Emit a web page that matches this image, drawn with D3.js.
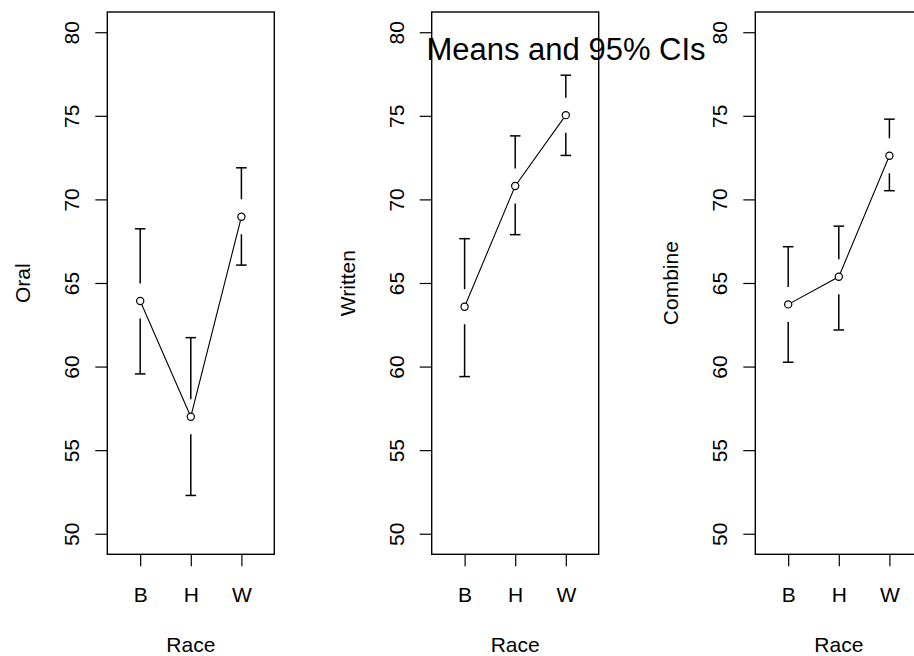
<!DOCTYPE html>
<html>
<head>
<meta charset="utf-8">
<script src="https://d3js.org/d3.v7.min.js"></script>
<style>
  body { margin: 0; background: #fff; }
  svg text { font-family: "Liberation Sans", Arial, sans-serif; fill: #000; }
</style>
</head>
<body>
<svg id="graph"></svg>
<script>
// groups on the x axis
var races = ["B", "H", "W"];
var panelNames = ["Oral", "Written", "Combine"];
var yTicks = [50, 55, 60, 65, 70, 75, 80];

// means and 95% CI ends
var oralMean = [63.92, 57.0, 68.96];
var oralLow = [59.56, 52.29, 66.07];
var oralHigh = [68.24, 61.73, 71.89];

var writtenMean = [63.58, 70.8, 75.04];
var writtenLow = [59.4, 67.89, 72.63];
var writtenHigh = [67.65, 73.8, 77.43];

var combineMean = [63.72, 65.37, 72.61];
var combineLow = [60.26, 62.19, 70.52];
var combineHigh = [67.17, 68.4, 74.8];

var width = 914;
var height = 656;
var svg = d3.select("#graph").attr("width", width).attr("height", height);

var panels = [
	{ name: panelNames[0], mean: oralMean, low: oralLow, high: oralHigh, left: 107.3 },
	{ name: panelNames[1], mean: writtenMean, low: writtenLow, high: writtenHigh, left: 431.7 },
	{ name: panelNames[2], mean: combineMean, low: combineLow, high: combineHigh, left: 755.3 }
];

var plotTop = 12;
var plotBottom = 554.3;
var pw = 167;
var gap = 17.5;   // space left open round each mean
var cap = 5.3;

var y = d3.scaleLinear().domain([48.77, 81.21]).range([plotBottom, plotTop]);

function drawPanel(p) {
	var x = d3.scalePoint().domain(races).range([p.left, p.left + pw]).padding(0.65);
	var g = svg.append("g");

	// y axis
	var ya = g.append("g").attr("transform", "translate(" + p.left + ",0)")
		.call(d3.axisLeft(y).tickValues(yTicks).tickSize(12).tickFormat(d3.format("d")));
	ya.select(".domain").remove();
	ya.selectAll("line").attr("stroke", "#000").attr("stroke-width", 1.2);
	ya.selectAll("text")
		.attr("x", 0).attr("y", -28).attr("dy", 0)
		.attr("transform", "rotate(-90)")
		.attr("text-anchor", "middle")
		.style("font-size", "21px");

	// x axis
	var xa = g.append("g").attr("transform", "translate(0," + plotBottom + ")")
		.call(d3.axisBottom(x).tickSize(12));
	xa.select(".domain").remove();
	xa.selectAll("line").attr("stroke", "#000").attr("stroke-width", 1.2);
	xa.selectAll("text").attr("y", 48).attr("dy", 0).style("font-size", "21px");

	// box
	g.append("rect")
		.attr("x", p.left).attr("y", plotTop)
		.attr("width", pw).attr("height", plotBottom - plotTop)
		.attr("fill", "none").attr("stroke", "#000").attr("stroke-width", 1.4);

	// axis titles
	g.append("text").text("Race")
		.attr("x", p.left + pw / 2).attr("y", 652)
		.attr("text-anchor", "middle").style("font-size", "21px");
	g.append("text").text(p.name)
		.attr("transform", "translate(" + (p.left - 77) + "," + ((plotTop + plotBottom) / 2) + ") rotate(-90)")
		.attr("text-anchor", "middle").style("font-size", "21px");

	var pts = races.map(function(r, i) {
		return { race: r, mean: p.mean[i], low: p.low[i], high: p.high[i] };
	});

	// connecting line
	var line = d3.line()
		.x(function(d) { return x(d.race); })
		.y(function(d) { return y(d.mean); });
	g.append("path").datum(pts).attr("d", line)
		.attr("fill", "none").attr("stroke", "#000").attr("stroke-width", 1.1);

	// error bars with a gap round the mean
	var bars = g.append("g").selectAll("g").data(pts).enter().append("g")
		.attr("stroke", "#000").attr("stroke-width", 1.5);
	bars.append("line")
		.attr("x1", function(d) { return x(d.race); })
		.attr("x2", function(d) { return x(d.race); })
		.attr("y1", function(d) { return y(d.mean) - gap; })
		.attr("y2", function(d) { return y(d.high); });
	bars.append("line")
		.attr("x1", function(d) { return x(d.race); })
		.attr("x2", function(d) { return x(d.race); })
		.attr("y1", function(d) { return y(d.mean) + gap; })
		.attr("y2", function(d) { return y(d.low); });
	bars.append("line")
		.attr("x1", function(d) { return x(d.race) - cap; })
		.attr("x2", function(d) { return x(d.race) + cap; })
		.attr("y1", function(d) { return y(d.high); })
		.attr("y2", function(d) { return y(d.high); });
	bars.append("line")
		.attr("x1", function(d) { return x(d.race) - cap; })
		.attr("x2", function(d) { return x(d.race) + cap; })
		.attr("y1", function(d) { return y(d.low); })
		.attr("y2", function(d) { return y(d.low); });

	// open circles at the means
	g.append("g").selectAll("circle").data(pts).enter().append("circle")
		.attr("cx", function(d) { return x(d.race); })
		.attr("cy", function(d) { return y(d.mean); })
		.attr("r", 3.6)
		.attr("fill", "#fff").attr("stroke", "#000").attr("stroke-width", 1.2);
}

drawPanel(panels[0]);
drawPanel(panels[1]);

svg.append("text").text("Means and 95% CIs")
	.attr("x", 566).attr("y", 60)
	.attr("text-anchor", "middle")
	.style("font-size", "31px");

drawPanel(panels[2]);
</script>
</body>
</html>
